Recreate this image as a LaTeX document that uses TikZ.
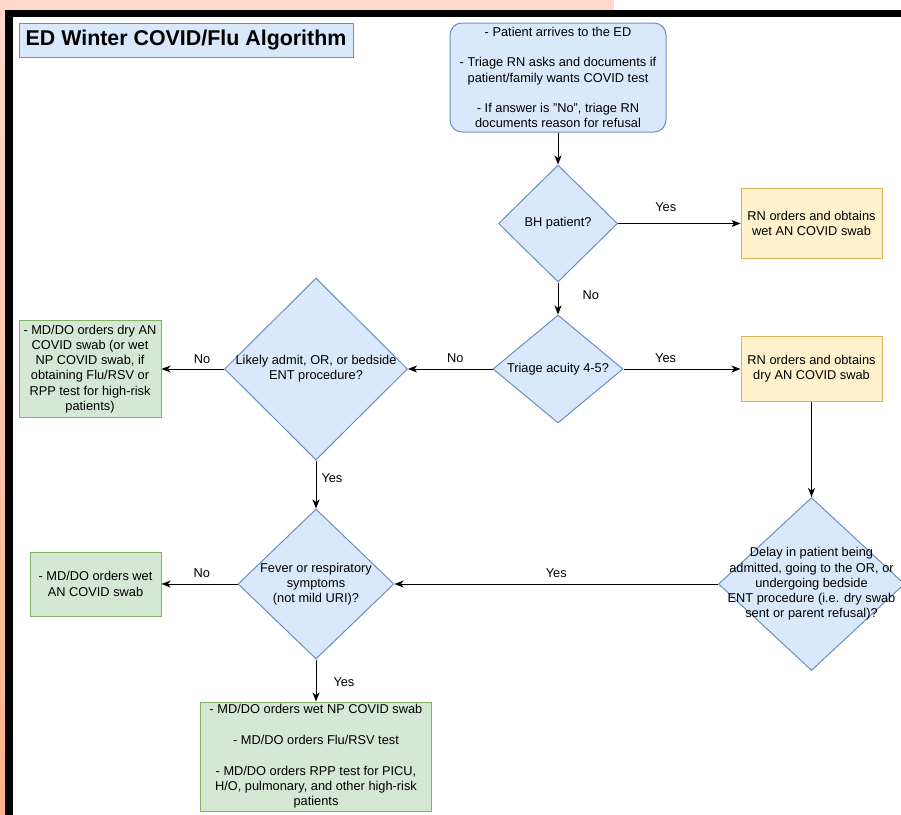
\documentclass[tikz,border=0pt]{standalone}
\usepackage{fontspec}
\setmainfont{Liberation Sans}
\usetikzlibrary{shapes.geometric,arrows.meta}
\definecolor{blueFill}{HTML}{DAE8FC}
\definecolor{blueLine}{HTML}{6C8EBF}
\definecolor{yellowFill}{HTML}{FFF2CC}
\definecolor{yellowLine}{HTML}{D6B656}
\definecolor{greenFill}{HTML}{D5E8D4}
\definecolor{greenLine}{HTML}{82B366}
\definecolor{peachTop}{HTML}{FFDACA}
\definecolor{peachBottom}{HTML}{FFB08C}
\begin{document}
\begin{tikzpicture}[x=1pt,y=-1pt,
        txt/.style={font=\fontsize{12.8}{15.3}\selectfont, align=center, inner sep=0pt},
        lbl/.style={txt},
        startbox/.style={txt, draw=blueLine, fill=blueFill, line width=1pt, rounded corners=12pt},
        question/.style={diamond, draw=blueLine, fill=blueFill, line width=1pt, inner sep=0pt},
        qtext/.style={txt},
        rnbox/.style={txt, draw=yellowLine, fill=yellowFill, line width=1pt, minimum width=141pt},
        mdbox/.style={txt, draw=greenLine, fill=greenFill, line width=1pt},
        arr/.style={line width=1pt, -{Stealth[length=9pt,width=7pt,inset=2.5pt]}}]
        \useasboundingbox (0,0) rectangle (901,814);
        \shade[top color=peachTop, bottom color=peachBottom] (-10,-10) rectangle (614,830);
        \fill[white] (614,-10) rectangle (920,10);
        \fill[black] (5,10) rectangle (920,830);
        \fill[white] (13,17) rectangle (920,830);

        \node[draw=blueLine, fill=blueFill, line width=1pt, minimum width=334pt, minimum height=34pt, inner sep=0pt,
              font=\bfseries\fontsize{21.4}{25}\selectfont] (title) at (186,40) {ED Winter COVID/Flu Algorithm};

        \node[startbox, minimum width=216pt, minimum height=109pt] (arrive) at (558,77.5)
             {- Patient arrives to the ED\\[15.3pt]
              - Triage RN asks and documents if\\patient/family wants COVID test\\[15.3pt]
              - If answer is "No", triage RN\\documents reason for refusal};
        \node[question, minimum width=119pt, minimum height=117pt,
              label={[qtext]center:BH patient?}] (bh) at (558,223.5) {};
        \node[rnbox, minimum height=70pt] (rnwet) at (811.5,223.5) {RN orders and obtains\\wet AN COVID swab};
        \node[question, minimum width=130pt, minimum height=108pt,
              label={[qtext]center:Triage acuity 4-5?}] (acuity) at (558,369) {};
        \node[rnbox, minimum height=65pt] (rndry) at (811.5,369) {RN orders and obtains\\dry AN COVID swab};
        \node[question, minimum width=183pt, minimum height=182pt,
              label={[qtext]center:{Likely admit, OR, or bedside\\ENT procedure?}}] (likely) at (316,369) {};
        \node[mdbox, minimum width=142pt, minimum height=97pt] (mddry) at (90,369)
             {- MD/DO orders dry AN\\COVID swab (or wet\\NP COVID swab, if\\obtaining Flu/RSV or\\RPP test for high-risk\\patients)};
        \node[question, minimum width=186pt, minimum height=173pt,
              label={[qtext]center:{Delay in patient being\\admitted, going to the OR, or\\undergoing bedside\\ENT procedure (i.e. dry swab\\sent or parent refusal)?}}] (delay) at (811.5,584) {};
        \node[question, minimum width=156pt, minimum height=150pt,
              label={[qtext]center:{Fever or respiratory\\symptoms\\(not mild URI)?}}] (fever) at (316,584) {};
        \node[mdbox, minimum width=131pt, minimum height=64pt] (mdwet) at (95.5,584) {- MD/DO orders wet\\AN COVID swab};
        \node[mdbox, minimum width=231pt, minimum height=109pt] (mdtests) at (316,756.5)
             {- MD/DO orders wet NP COVID swab\\[15.3pt]
              - MD/DO orders Flu/RSV test\\[15.3pt]
              - MD/DO orders RPP test for PICU,\\H/O, pulmonary, and other high-risk\\patients};

        \draw[arr] (arrive) -- (bh);
        \draw[arr] (bh) -- node[lbl, pos=0.39, above=11pt] {Yes} (rnwet);
        \draw[arr] (bh) -- node[lbl, pos=0.4, right=24pt] {No} (acuity);
        \draw[arr] (acuity) -- node[lbl, pos=0.36, above=6pt] {Yes} (rndry);
        \draw[arr] (acuity) -- node[lbl, pos=0.44, above=6pt] {No} (likely);
        \draw[arr] (likely) -- node[lbl, pos=0.35, above=4.5pt] {No} (mddry);
        \draw[arr] (likely) -- node[lbl, pos=0.36, right=5pt] {Yes} (fever);
        \draw[arr] (rndry) -- (delay);
        \draw[arr] (delay) -- node[lbl, pos=0.5, above=5.5pt] {Yes} (fever);
        \draw[arr] (fever) -- node[lbl, pos=0.47, above=5.5pt] {No} (mdwet);
        \draw[arr] (fever) -- node[lbl, pos=0.53, right=17pt] {Yes} (mdtests);
        \end{tikzpicture}
\end{document}
